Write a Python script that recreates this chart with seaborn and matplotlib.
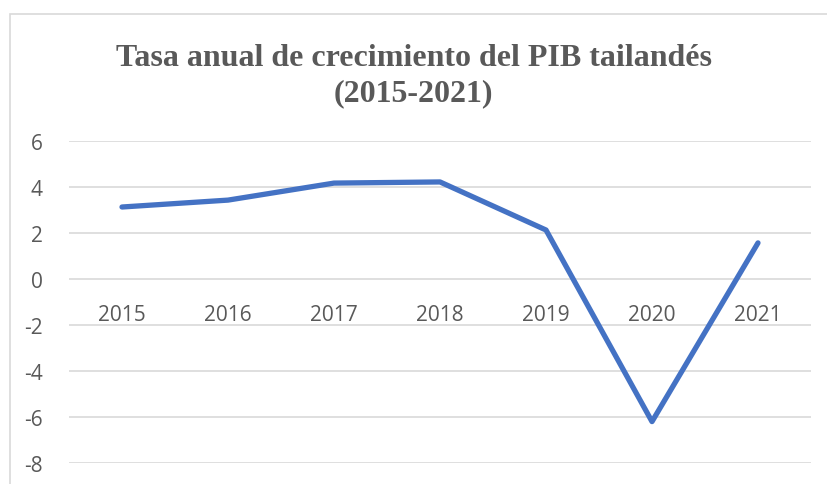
import matplotlib
matplotlib.use("Agg")
import matplotlib.pyplot as plt
from matplotlib.patches import Rectangle
import seaborn as sns
import pandas as pd

# Datos
years = ["2015", "2016", "2017", "2018", "2019", "2020", "2021"]
growth = [3.13, 3.43, 4.17, 4.22, 2.13, -6.2, 1.57]
yticks = [-8, -6, -4, -2, 0, 2, 4, 6]

df = pd.DataFrame({"year": years, "growth": growth})

sns.set_style("white")
plt.rcParams["font.family"] = ["Open Sans", "DejaVu Sans"]

fig = plt.figure(figsize=(8.27, 4.85), dpi=100)
ax = fig.add_axes([69 / 827, 1 - 464 / 485, (811 - 69) / 827, (464 - 142) / 485])

sns.lineplot(data=df, x="year", y="growth", ax=ax, color="#4472C4",
             linewidth=3.8, solid_capstyle="round", solid_joinstyle="round", zorder=3)

ax.set_xlim(-0.5, len(years) - 0.5)
ax.set_ylim(-8, 6)
ax.set_yticks(yticks)
ax.set_yticklabels([str(v) for v in yticks])
ax.yaxis.grid(True, color="#D9D9D9", linewidth=1.2)
ax.set_axisbelow(True)
for s in ax.spines.values():
    s.set_visible(False)

# el eje X cruza en 0
ax.spines["bottom"].set_position(("data", 0))
ax.tick_params(axis="x", length=0, pad=18, labelsize=15, labelcolor="#595959")
ax.tick_params(axis="y", length=0, pad=19, labelsize=15, labelcolor="#595959")
ax.set_xlabel("")
ax.set_ylabel("")

fig.text(0.5, 1 - 76 / 485,
         "Tasa anual de crecimiento del PIB tailandés\n(2015-2021)",
         ha="center", va="center", fontsize=23, fontweight="bold",
         color="#595959", family="Liberation Serif", linespacing=1.3)

# borde del gráfico
fig.patches.append(Rectangle((10 / 827, -0.1), 1.1, 1 - 15 / 485 + 0.1,
                             transform=fig.transFigure, fill=False,
                             edgecolor="#D9D9D9", linewidth=1.2))

fig.savefig("out.png", dpi=100)
